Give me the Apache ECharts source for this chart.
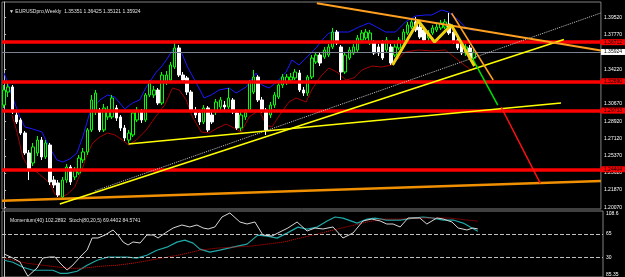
<!DOCTYPE html>
<html>
<head>
<meta charset="utf-8">
<script src="https://cdn.jsdelivr.net/npm/echarts@6/dist/echarts.min.js"></script>
<style>
html, body { margin: 0; padding: 0; background: #000; }
#chart { width: 625px; height: 277px; }
</style>
</head>
<body>
<div id="chart"></div>
<script>
// weekly bars
const opens = [1.3057, 1.3190, 1.3242, 1.2955, 1.2904, 1.2771, 1.2567, 1.2464, 1.2567, 1.2699,
    1.2526, 1.2648, 1.2290, 1.2260, 1.2116, 1.2290, 1.2423, 1.2321, 1.2362, 1.2495,
    1.2577, 1.2802, 1.2986, 1.2986, 1.2802, 1.2935, 1.2935, 1.3027, 1.2935, 1.2822,
    1.2699, 1.2751, 1.2904, 1.2986, 1.2904, 1.3160, 1.3160, 1.3211, 1.3078, 1.3293,
    1.3313, 1.3446, 1.3641, 1.3364, 1.3334, 1.3190, 1.3006, 1.2976, 1.2884, 1.3027,
    1.2955, 1.2986, 1.3037, 1.3057, 1.3037, 1.3109, 1.2976, 1.2822, 1.2935, 1.3006,
    1.3190, 1.3344, 1.3109, 1.3006, 1.2955, 1.3057, 1.3139, 1.3262, 1.3293, 1.3313,
    1.3334, 1.3385, 1.3211, 1.3180, 1.3344, 1.3497, 1.3569, 1.3548, 1.3569, 1.3651,
    1.3804, 1.3651, 1.3395, 1.3538, 1.3589, 1.3620, 1.3722, 1.3743, 1.3692, 1.3692,
    1.3651, 1.3692, 1.3620, 1.3651, 1.3569, 1.3641, 1.3702, 1.3794, 1.3855, 1.3907,
    1.3855, 1.3825, 1.3743, 1.3794, 1.3825, 1.3845, 1.3855, 1.3886, 1.3804, 1.3722,
    1.3692, 1.3589, 1.3641, 1.35351];
const closes = [1.3211, 1.3242, 1.2986, 1.2884, 1.2771, 1.2567, 1.2393, 1.2628, 1.2699, 1.2526,
    1.2669, 1.2270, 1.2239, 1.2137, 1.2290, 1.2423, 1.2270, 1.2393, 1.2515, 1.2577,
    1.2802, 1.3109, 1.3180, 1.2802, 1.3027, 1.3006, 1.3129, 1.2924, 1.2822, 1.2720,
    1.2771, 1.2976, 1.3006, 1.2904, 1.3160, 1.3283, 1.3211, 1.3078, 1.3364, 1.3364,
    1.3467, 1.3641, 1.3364, 1.3313, 1.3190, 1.3006, 1.2955, 1.2884, 1.3027, 1.2802,
    1.2884, 1.3088, 1.3109, 1.3037, 1.3129, 1.2986, 1.2822, 1.2955, 1.2986, 1.3293,
    1.3344, 1.3109, 1.3006, 1.2802, 1.3057, 1.3160, 1.3262, 1.3344, 1.3344, 1.3344,
    1.3395, 1.3211, 1.3180, 1.3344, 1.3538, 1.3569, 1.3487, 1.3620, 1.3651, 1.3804,
    1.3692, 1.3395, 1.3569, 1.3620, 1.3651, 1.3743, 1.3794, 1.3804, 1.3794, 1.3589,
    1.3589, 1.3538, 1.3722, 1.3487, 1.3651, 1.3722, 1.3804, 1.3876, 1.3907, 1.3825,
    1.3753, 1.3722, 1.3794, 1.3845, 1.3855, 1.3896, 1.3907, 1.3794, 1.3702, 1.3641,
    1.3589, 1.3651, 1.3538, 1.35924];
const lows = [1.3027, 1.3139, 1.2965, 1.2863, 1.2751, 1.2546, 1.2290, 1.2433, 1.2536, 1.2495,
    1.2505, 1.2239, 1.2208, 1.2116, 1.2096, 1.2260, 1.2239, 1.2290, 1.2341, 1.2464,
    1.2546, 1.2781, 1.2955, 1.2781, 1.2781, 1.2904, 1.2914, 1.2894, 1.2791, 1.2689,
    1.2669, 1.2730, 1.2884, 1.2873, 1.2884, 1.3139, 1.3129, 1.3057, 1.3057, 1.3262,
    1.3293, 1.3426, 1.3344, 1.3283, 1.3160, 1.2986, 1.2924, 1.2853, 1.2863, 1.2781,
    1.2863, 1.2955, 1.3006, 1.3006, 1.3016, 1.2965, 1.2802, 1.2791, 1.2904, 1.2986,
    1.3170, 1.3088, 1.2976, 1.2751, 1.2924, 1.3027, 1.3119, 1.3231, 1.3262, 1.3283,
    1.3313, 1.3190, 1.3150, 1.3150, 1.3323, 1.3477, 1.3456, 1.3528, 1.3548, 1.3630,
    1.3671, 1.3313, 1.3375, 1.3518, 1.3569, 1.3600, 1.3702, 1.3722, 1.3671, 1.3569,
    1.3559, 1.3518, 1.3600, 1.3467, 1.3548, 1.3620, 1.3681, 1.3774, 1.3835, 1.3804,
    1.3733, 1.3702, 1.3712, 1.3774, 1.3804, 1.3825, 1.3835, 1.3774, 1.3681, 1.3620,
    1.3569, 1.3559, 1.3518, 1.35121];
const highs = [1.3262, 1.3283, 1.3262, 1.2986, 1.2924, 1.2791, 1.2597, 1.2669, 1.2740, 1.2730,
    1.2699, 1.2669, 1.2331, 1.2290, 1.2321, 1.2454, 1.2444, 1.2423, 1.2546, 1.2618,
    1.2822, 1.3160, 1.3211, 1.3027, 1.3068, 1.3047, 1.3160, 1.3057, 1.2955, 1.2853,
    1.2802, 1.3006, 1.3037, 1.3016, 1.3180, 1.3313, 1.3252, 1.3231, 1.3395, 1.3405,
    1.3497, 1.3702, 1.3671, 1.3395, 1.3354, 1.3211, 1.3037, 1.3006, 1.3057, 1.3047,
    1.2986, 1.3119, 1.3139, 1.3098, 1.3231, 1.3129, 1.3006, 1.2986, 1.3016, 1.3313,
    1.3416, 1.3364, 1.3139, 1.3027, 1.3088, 1.3190, 1.3293, 1.3375, 1.3375, 1.3385,
    1.3426, 1.3416, 1.3242, 1.3364, 1.3569, 1.3600, 1.3600, 1.3651, 1.3681, 1.3845,
    1.3825, 1.3671, 1.3600, 1.3651, 1.3681, 1.3774, 1.3825, 1.3835, 1.3825, 1.3722,
    1.3681, 1.3722, 1.3753, 1.3681, 1.3681, 1.3753, 1.3835, 1.3907, 1.3937, 1.3958,
    1.3886, 1.3855, 1.3825, 1.3876, 1.3886, 1.3927, 1.3937, 1.3999, 1.3825, 1.3753,
    1.3712, 1.3681, 1.3671, 1.36425];

// envelope lines [bar, price]
const upperBand = [[0, 1.3385], [2.1, 1.3129], [3.8, 1.2935], [5.0, 1.2832], [6.9, 1.2812], [9.1, 1.2781],
    [11.0, 1.2618], [12.7, 1.2495], [14.1, 1.2474], [15.8, 1.2505], [17.5, 1.2566], [18.9, 1.2730],
    [20.6, 1.2976], [23.0, 1.3109], [24.9, 1.3160], [26.6, 1.3139], [29.0, 1.3017], [30.9, 1.3078],
    [32.6, 1.3109], [34.2, 1.3242], [36.6, 1.3395], [37.8, 1.3446], [39.0, 1.3518], [40.9, 1.3641],
    [42.6, 1.3600], [44.1, 1.3446], [46.2, 1.3283], [48.1, 1.3129], [49.8, 1.3160], [51.7, 1.3211],
    [54.1, 1.3231], [55.8, 1.3180], [58.2, 1.3242], [60.6, 1.3385], [62.0, 1.3262], [63.7, 1.3231],
    [65.6, 1.3293], [67.8, 1.3395], [69.2, 1.3518], [70.9, 1.3467], [72.8, 1.3548], [75.0, 1.3641],
    [76.9, 1.3743], [78.1, 1.3794], [80.5, 1.3804], [82.9, 1.3804], [85.3, 1.3855], [87.7, 1.3896],
    [89.6, 1.3855], [91.7, 1.3804], [94.1, 1.3804], [96.5, 1.3907], [98.9, 1.3968], [101.3, 1.3978],
    [102.8, 1.3978], [105.2, 1.4029], [106.8, 1.4009], [109.2, 1.3927], [110.9, 1.3855],
    [112.3, 1.3825], [113.5, 1.3825]];
const lowerBand = [[1.9, 1.2955], [3.1, 1.2781], [4.5, 1.2525], [6.2, 1.2393], [7.9, 1.2372], [9.3, 1.2321],
    [11.0, 1.2260], [12.2, 1.2147], [13.9, 1.2116], [15.3, 1.2147], [17.0, 1.2219], [18.7, 1.2393],
    [19.9, 1.2546], [21.3, 1.2669], [23.0, 1.2730], [24.9, 1.2771], [26.6, 1.2751], [28.5, 1.2699],
    [29.9, 1.2648], [31.8, 1.2699], [34.2, 1.2802], [36.2, 1.2924], [38.6, 1.3057], [40.5, 1.3231],
    [42.1, 1.3211], [43.8, 1.3109], [45.3, 1.2935], [47.4, 1.2781], [49.3, 1.2771], [51.3, 1.2822],
    [53.4, 1.2863], [55.3, 1.2822], [57.0, 1.2781], [58.9, 1.2935], [61.3, 1.3006], [63.0, 1.2853],
    [64.4, 1.2832], [66.6, 1.2976], [68.5, 1.3088], [70.2, 1.3129], [72.6, 1.3088], [74.2, 1.3231],
    [76.2, 1.3354], [78.1, 1.3436], [80.0, 1.3395], [82.2, 1.3313], [84.1, 1.3334], [86.0, 1.3415],
    [88.4, 1.3456], [90.8, 1.3446], [93.2, 1.3467], [96.5, 1.3600], [99.6, 1.3620], [103.2, 1.3610],
    [106.1, 1.3620], [110.0, 1.3487], [112.3, 1.3415], [113.5, 1.3436]];

// drawn objects [bar, price]
const levelPrices = [1.36712, 1.32690, 1.29733, 1.24404];
const lastPrice = 1.35924;
const priceTicks = [1.39520, 1.37770, 1.34220, 1.30670, 1.28920, 1.27120, 1.25370, 1.23620, 1.21870, 1.20070];
const orangeTop = [[75.2, 1.4098], [143.5, 1.3615]];
const orangeDrop = [[107.6, 1.3996], [117.6, 1.3313]];
const orangeBase = [[-0.5, 1.2078], [143.5, 1.2281]];
const yellowLong = [[13.4, 1.2045], [134.6, 1.3728]];
const yellowLow = [[29.9, 1.2658], [133.9, 1.3078]];
const dottedTrend = [[21.8, 1.2178], [143.5, 1.3999]];
const zigzag = [[93.4, 1.3467], [99.6, 1.3917], [103.5, 1.3702], [107.5, 1.3876], [113.1, 1.3456]];
const greenLeg = [[112.8, 1.3518], [118.7, 1.3057]];
const redLeg = [[119.5, 1.3037], [128.9, 1.2259]];

// sub window
const momentum = [[0, 93.45], [2.1, 92.04], [3.8, 90.63], [5.7, 85.6], [7.9, 88.52], [9.3, 92.04], [11.0, 92.40],
    [12.2, 92.40], [13.4, 90.28], [15.1, 87.82], [16.5, 89.58], [18.2, 92.40], [19.9, 94.86], [21.1, 99.09],
    [22.5, 99.09], [24.2, 100.15], [26.1, 101.91], [27.3, 100.15], [28.5, 97.68], [29.7, 96.62],
    [30.9, 97.68], [32.6, 97.33], [34.2, 100.15], [35.7, 100.15], [36.9, 99.09], [38.6, 100.85],
    [40.5, 102.61], [42.6, 103.67], [44.5, 102.97], [46.2, 103.67], [47.7, 102.61], [48.9, 102.26],
    [50.5, 102.97], [52.2, 106.49], [54.1, 107.9], [56.5, 104.73], [58.2, 104.02], [60.1, 104.73],
    [62.0, 100.15], [64.2, 99.79], [65.6, 100.85], [68.0, 102.61], [70.2, 104.73], [72.6, 101.56],
    [74.5, 102.61], [76.4, 102.26], [78.8, 102.97], [81.2, 99.09], [83.6, 100.85], [86.0, 105.08],
    [88.1, 105.78], [90.1, 105.08], [91.7, 104.02], [93.2, 104.02], [94.9, 102.97], [96.8, 106.14],
    [99.6, 106.14], [101.3, 104.02], [103.7, 106.14], [105.2, 105.78], [107.3, 104.73], [108.8, 102.61],
    [110.9, 101.91], [112.3, 102.61], [113.5, 102.29]];
const stochMain = [[0, 25.4], [2.1, 22.4], [4.5, 14.8], [6.9, 10.2], [9.3, 10.2], [11.7, 10.2], [13.4, 5.6],
    [15.1, 5.6], [17.5, 8.7], [19.9, 17.8], [22.3, 25.4], [24.7, 30.0], [27.1, 30.0], [29.5, 30.0],
    [31.8, 28.5], [34.2, 33.0], [36.6, 40.6], [39.0, 45.2], [41.4, 52.8], [43.3, 55.9], [45.3, 51.3],
    [46.9, 42.2], [49.3, 37.6], [51.7, 40.6], [54.8, 45.2], [58.2, 49.8], [60.8, 63.5], [63.0, 61.9],
    [65.4, 58.9], [67.8, 66.5], [70.4, 75.6], [72.6, 72.6], [75.0, 75.6], [77.4, 84.8], [79.3, 90.9],
    [81.2, 89.3], [84.6, 81.7], [87.0, 87.8], [88.9, 89.3], [91.7, 86.3], [94.9, 86.3], [98.0, 89.3],
    [100.4, 90.9], [102.8, 89.3], [105.2, 86.3], [107.6, 86.3], [110.0, 81.7], [112.1, 74.1], [113.5, 69.44]];
const stochSignal = [[0, 28.5], [2.1, 25.4], [5.5, 20.9], [9.3, 17.8], [13.4, 14.8], [15.8, 13.2], [18.9, 13.2],
    [23.0, 16.3], [27.1, 17.8], [30.9, 20.9], [35.0, 25.4], [39.0, 30.0], [42.9, 34.6], [46.9, 40.6],
    [51.0, 43.7], [54.8, 45.2], [58.9, 46.7], [63.0, 49.8], [66.8, 52.8], [70.9, 58.9], [75.0, 65.0],
    [78.8, 71.1], [82.9, 77.2], [87.0, 83.3], [90.8, 87.8], [94.9, 87.8], [98.9, 89.3], [102.8, 89.3],
    [106.8, 89.3], [110.9, 86.3], [113.5, 84.57]];
const stochLevels = [65, 30];
const momentumTop = 108.6;
const momentumBottom = 85.35;

const slotCount = 144;
const slots = [];
for (let i = 0; i < slotCount; i++) slots.push(String(i));

let chartDom = document.getElementById('chart');
let myChart = echarts.init(chartDom);
const font = 'Liberation Sans';

function drawLine(data, color, width, type, z) {
    return {
        type: 'line', xAxisIndex: 1, yAxisIndex: 0, data: data, symbol: 'none',
        lineStyle: { color: color, width: width, type: type || 'solid' },
        silent: true, z: z || 5, animation: false
    };
}

function momentumAxis(value, align) {
    return {
        type: 'value', gridIndex: 1, position: 'right', min: momentumBottom, max: momentumTop,
        splitLine: { show: false }, axisLine: { show: false }, axisTick: { show: false },
        axisLabel: {
            customValues: [value], margin: 3, color: '#ffffff', fontSize: 5, fontFamily: font,
            verticalAlign: align
        }
    };
}

let candleData = opens.map((o, i) => [o, closes[i], lows[i], highs[i]]);

let option = {
    animation: false,
    backgroundColor: '#000000',
    textStyle: { fontFamily: font },
    title: [{
        text: '\u25BC EURUSDpro,Weekly  1.35351 1.36425 1.35121 1.35924',
        left: 4, top: 4,
        textStyle: { color: '#e0e0e0', fontSize: 5, fontWeight: 'normal', fontFamily: font }
    }, {
        text: 'Momentum(40) 102.2892  Stoch(80,20,5) 69.4402 84.5741',
        left: 5, top: 213,
        textStyle: { color: '#e0e0e0', fontSize: 5, fontWeight: 'normal', fontFamily: font }
    }],
    grid: [
        { left: 2, right: 22, top: 2, height: 207, show: true, borderColor: '#808080', borderWidth: 1 },
        { left: 2, right: 22, top: 211, height: 66, show: true, borderColor: '#808080', borderWidth: 1 }
    ],
    xAxis: [
        { type: 'category', gridIndex: 0, data: slots, boundaryGap: true, show: false },
        { type: 'value', gridIndex: 0, min: -0.5, max: slotCount - 0.5, show: false },
        { type: 'value', gridIndex: 1, min: -0.5, max: slotCount - 0.5, show: false }
    ],
    yAxis: [{
        type: 'value', gridIndex: 0, position: 'right',
        min: 1.19935, max: 1.41111, scale: true,
        splitLine: { show: false },
        axisLine: { show: true, lineStyle: { color: '#c0c0c0' } },
        axisTick: { show: true, length: 2, customValues: priceTicks, lineStyle: { color: '#c0c0c0' } },
        axisLabel: {
            customValues: priceTicks, margin: 3, color: '#ffffff', fontSize: 5, fontFamily: font,
            formatter: v => v.toFixed(5)
        }
    }, {
        type: 'value', gridIndex: 1, position: 'right', min: 0, max: 100,
        splitLine: { show: false },
        axisLine: { show: true, lineStyle: { color: '#c0c0c0' } },
        axisTick: { show: true, length: 2, customValues: stochLevels, lineStyle: { color: '#c0c0c0' } },
        axisLabel: { customValues: stochLevels, margin: 3, color: '#ffffff', fontSize: 5, fontFamily: font }
    },
        momentumAxis(momentumTop, 'top'),
        momentumAxis(momentumBottom, 'bottom')
    ],
    series: [
        {
            type: 'candlestick', xAxisIndex: 0, yAxisIndex: 0, data: candleData, barWidth: 3,
            itemStyle: { color: '#000000', color0: '#ffffff', borderColor: '#00ff00', borderColor0: '#ffffff', borderWidth: 1 },
            silent: true, z: 3
        },
        drawLine(upperBand, '#1a1aff', 1, 'solid', 2),
        drawLine(lowerBand, '#a00000', 1, 'solid', 2),
        {
            type: 'line', xAxisIndex: 1, yAxisIndex: 0, data: [], silent: true, z: 4,
            markLine: {
                symbol: ['none', 'none'], silent: true, animation: false,
                data: levelPrices.map(v => ({
                    yAxis: v,
                    lineStyle: { color: '#ff0000', width: 3.5, type: 'solid' },
                    label: {
                        show: true, position: 'end', distance: 0, formatter: v.toFixed(5),
                        color: '#000000', backgroundColor: '#ff0000', fontSize: 5, fontFamily: font,
                        padding: [1, 3, 0, 3]
                    }
                })).concat([{
                    yAxis: lastPrice,
                    lineStyle: { color: '#7a8490', width: 1, type: 'solid' },
                    label: {
                        show: true, position: 'end', distance: 0, formatter: lastPrice.toFixed(5),
                        color: '#000000', backgroundColor: '#ffffff', fontSize: 5, fontFamily: font,
                        padding: [1, 3, 0, 3]
                    }
                }])
            }
        },
        drawLine(orangeBase, '#f09000', 2.5, 'solid', 6),
        drawLine(dottedTrend, '#c8c8c8', 1, 'dotted', 6),
        drawLine(yellowLong, '#ffff00', 1.5, 'solid', 6),
        drawLine(yellowLow, '#ffff00', 1.5, 'solid', 6),
        drawLine(orangeTop, '#ffa020', 2, 'solid', 6),
        drawLine(orangeDrop, '#ffa020', 1.5, 'solid', 6),
        drawLine(zigzag, '#f0d010', 3, 'solid', 7),
        drawLine(greenLeg, '#00e000', 1.5, 'solid', 6),
        drawLine(redLeg, '#ff1010', 1.5, 'solid', 6),
        {
            type: 'line', xAxisIndex: 2, yAxisIndex: 2, data: momentum, symbol: 'none', silent: true,
            lineStyle: { color: '#d8d8d8', width: 1 }, z: 4
        },
        {
            type: 'line', xAxisIndex: 2, yAxisIndex: 1, data: stochMain, symbol: 'none', silent: true,
            lineStyle: { color: '#20a8a8', width: 1.2 }, z: 3,
            markLine: {
                symbol: ['none', 'none'], silent: true, animation: false, label: { show: false },
                lineStyle: { color: '#c0c0c0', width: 1, type: 'dashed' },
                data: stochLevels.map(v => ({ yAxis: v }))
            }
        },
        {
            type: 'line', xAxisIndex: 2, yAxisIndex: 1, data: stochSignal, symbol: 'none', silent: true,
            lineStyle: { color: '#e00000', width: 1, type: 'dotted' }, z: 3
        }
    ]
};
option && myChart.setOption(option);
</script>
</body>
</html>
